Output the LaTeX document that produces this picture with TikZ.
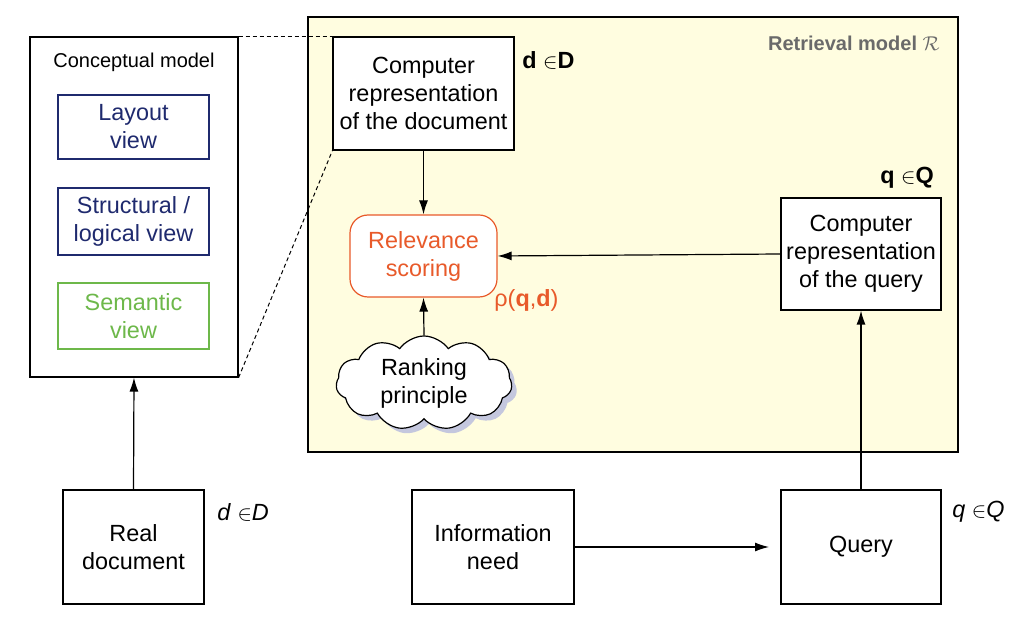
\documentclass[tikz,border=0pt]{standalone}
\usepackage{fontspec}
\setmainfont{Liberation Sans}
\usepackage{amsmath,amssymb,graphicx}
\usetikzlibrary{shapes.symbols,shadows,arrows.meta}
\definecolor{bgyellow}{HTML}{FFFDE0}
\definecolor{navy}{HTML}{1F2A6E}
\definecolor{vgreen}{HTML}{6DB84A}
\definecolor{vorange}{HTML}{E85A2A}
\definecolor{lblgray}{HTML}{6A6A6A}
\definecolor{shadowblue}{HTML}{C4C7DE}
\newcommand{\elem}{\scalebox{0.9}{$\in$}}
\begin{document}
\begin{tikzpicture}[x=0.5pt,y=-0.5pt,
  box/.style={draw,line width=0.6pt,fill=white,align=center,inner sep=0pt,font=\fontsize{11.7}{14}\selectfont},
  viewbox/.style={box,minimum width=75.5pt},
  arr/.style={-{Latex[length=7pt,width=4.5pt]},line width=0.6pt},
  lbl/.style={font=\fontsize{11.7}{14}\selectfont,inner sep=0pt},
  zoomline/.style={dash pattern=on 2pt off 1.5pt,line width=0.5pt}]
\useasboundingbox (0,0) rectangle (1027,640);
% retrieval model background
\node[draw,line width=0.6pt,fill=bgyellow,minimum width=325pt,minimum height=217.5pt,inner sep=0pt] (rm) at (633,234.5) {};
\node[font=\bfseries\fontsize{10}{12}\selectfont,text=lblgray,anchor=east,inner sep=0pt] (rmlbl) at (940,43) {Retrieval model $\mathcal{R}$};
% conceptual model
\node[box,minimum width=104pt,minimum height=170pt] (concept) at (134,207) {};
\node[font=\fontsize{10}{12}\selectfont,inner sep=0pt] (concepttitle) at (134,62) {Conceptual model};
\node[viewbox,draw=navy,text=navy,minimum height=32pt] (layout) at (133.5,127) {Layout\\view};
\node[viewbox,draw=navy,text=navy,minimum height=33.5pt] (struct) at (133.5,221.5) {Structural /\\logical view};
\node[viewbox,draw=vgreen,text=vgreen,minimum height=33pt] (sem) at (133.5,316) {Semantic\\view};
% document representation
\node[box,minimum width=90.5pt,minimum height=56.5pt] (compdoc) at (423.5,93.5) {Computer\\representation\\of the document};
\node[lbl,anchor=west] (dD) at (522,60) {\textbf{d} \elem\textbf{D}};
% relevance scoring
\node[box,draw=vorange,text=vorange,rounded corners=9pt,minimum width=73.5pt,minimum height=41pt] (rel) at (423.5,256) {Relevance\\scoring};
\node[lbl,anchor=west,text=vorange] (rho) at (494,300) {ρ(\textbf{q},\textbf{d})};
% cloud
\node[cloud,cloud puffs=11,cloud puff arc=110,aspect=2,draw,line width=0.6pt,fill=white,
  drop shadow={fill=shadowblue,opacity=1,shadow xshift=2.5pt,shadow yshift=-2.5pt},
  minimum width=88pt,minimum height=47pt,inner sep=0pt,align=center,font=\fontsize{11.7}{14}\selectfont] (cloud) at (424,383) {Ranking\\principle};
% query representation
\node[box,minimum width=80pt,minimum height=56pt] (compq) at (861,254) {Computer\\representation\\of the query};
\node[lbl,anchor=west] (qQ) at (880,178) {\textbf{q} \elem\textbf{Q}};
% bottom row
\node[box,minimum width=70.5pt,minimum height=57pt] (realdoc) at (133.5,547) {Real\\document};
\node[lbl,anchor=west] (dDi) at (217,512) {\textit{d} \elem\textit{D}};
\node[box,minimum width=81pt,minimum height=57pt] (info) at (493,547) {Information\\need};
\node[box,minimum width=80pt,minimum height=57pt] (query) at (861,547) {Query};
\node[lbl,anchor=west] (qQi) at (952,512) {\textit{q} \elem\textit{Q}};
% dotted zoom lines
\draw[zoomline] (concept.north east) -- (compdoc.north west);
\draw[zoomline] (concept.south east) -- (compdoc.south west);
% arrows
\draw[arr] (realdoc.north) -- (concept.south);
\coordinate (infoend) at (769,547);
\draw[arr] (info.east) -- (infoend);
\draw[arr] (query.north) -- (compq.south);
\draw[arr] (compq.west) -- (rel.east);
\draw[arr] (compdoc.south) -- (rel.north);
\draw[arr] (cloud.north) -- (rel.south);
\end{tikzpicture}
\end{document}
